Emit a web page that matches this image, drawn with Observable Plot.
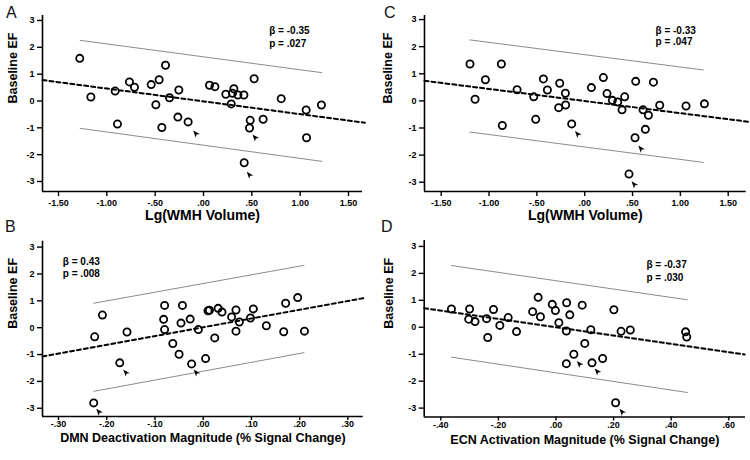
<!DOCTYPE html>
<html><head><meta charset="utf-8">
<script src="https://cdn.jsdelivr.net/npm/d3@7"></script>
<script src="https://cdn.jsdelivr.net/npm/@observablehq/plot@0.6"></script>
<style>
html,body{margin:0;padding:0;background:#fff;}
#fig{position:relative;width:750px;height:460px;overflow:hidden;font-family:"Liberation Sans",Arial,sans-serif;background:#fff;}
.panel{position:absolute;}
.letter{position:absolute;font-size:16px;line-height:1;color:#111;font-family:"Liberation Sans",Arial,sans-serif;}
.panel svg{overflow:visible;}
</style></head><body><div id="fig"></div>
<script>
// ---------- Panel A: Lg(WMH Volume) vs Baseline EF ----------
const aX = [-1.28,-1.165,-0.914,-0.89,-0.766,-0.714,-0.541,-0.493,-0.459,-0.431,-0.393,-0.352,-0.255,-0.265,-0.159,
            0.062,0.118,0.524,0.314,0.231,0.30,0.356,0.418,0.287,0.804,1.062,1.22,0.483,0.476,0.617,1.066,0.421];
const aY = [1.59,0.15,0.37,-0.86,0.71,0.51,0.61,-0.14,0.79,-0.99,1.33,0.12,0.41,-0.60,-0.78,
            0.585,0.533,0.83,0.458,0.25,0.287,0.224,0.224,-0.11,0.086,-0.335,-0.15,-0.72,-1.006,-0.68,-1.37,-2.30];
const aFitX = [-1.6655, 1.67], aFitY = [0.78, -0.81];
const aBandX = [-1.276, 1.224], aUpperY = [2.26, 1.056], aLowerY = [-1.02, -2.25];
const aArrowX = [-0.078, 0.535, 0.476], aArrowY = [-1.22, -1.37, -2.76];
const aStats = ["β = -0.35", "p = .027"];

// ---------- Panel C: Lg(WMH Volume) vs Baseline EF ----------
const cX = [-1.199,-1.146,-1.038,-0.871,-0.861,-0.707,-0.533,-0.512,-0.432,-0.39,-0.261,-0.272,-0.202,-0.199,-0.136,
            0.07,0.195,0.233,0.289,0.345,0.418,0.39,0.533,0.526,0.61,0.634,0.666,0.718,0.784,1.059,1.251,0.463];
const cY = [1.36,0.06,0.78,1.36,-0.91,0.41,0.15,-0.68,0.81,0.40,0.65,-0.25,0.28,-0.15,-0.85,
            0.49,0.86,0.27,0.02,-0.04,0.15,-0.33,0.72,-1.36,-0.33,-1.05,-0.53,0.69,-0.16,-0.19,-0.11,-2.70];
const cFitX = [-1.6746, 1.714], cFitY = [0.74, -0.77];
const cBandX = [-1.199, 1.24], cUpperY = [2.25, 1.14], cLowerY = [-1.15, -2.27];
const cArrowX = [-0.073, 0.589, 0.519], cArrowY = [-1.23, -1.77, -3.09];
const cStats = ["β = -0.33", "p = .047"];

// ---------- Panel B: DMN deactivation vs Baseline EF ----------
const bX = [-0.225,-0.209,-0.158,-0.173,-0.227,-0.082,-0.080,-0.080,-0.063,-0.050,-0.046,-0.043,-0.027,-0.024,-0.010,0.005,
            0.010,0.013,0.024,0.031,0.039,0.059,0.068,0.068,0.075,0.098,0.104,0.131,0.167,0.171,0.196,0.210];
const bY = [-0.34,0.47,-0.16,-1.31,-2.80,0.31,0.83,-0.07,-0.59,-0.99,0.17,0.83,0.32,-1.35,-0.07,-1.15,
            0.63,0.65,-0.38,0.72,0.58,0.40,0.66,-0.13,0.21,0.36,0.70,0.07,-0.15,0.91,1.12,-0.13];
const bFitX = [-0.3332, 0.332], bFitY = [-1.07, 1.10];
const bBandX = [-0.227, 0.209], bUpperY = [0.91, 2.32], bLowerY = [-2.37, -0.93];
const bArrowX = [-0.160, -0.014, -0.216], bArrowY = [-1.68, -1.68, -3.14];
const bStats = ["β = 0.43", "p = .008"];

// ---------- Panel D: ECN activation vs Baseline EF ----------
const dX = [-0.363,-0.300,-0.303,-0.281,-0.241,-0.237,-0.217,-0.195,-0.166,-0.137,-0.081,-0.062,-0.054,-0.013,-0.002,0.010,
            0.037,0.036,0.048,0.036,0.062,0.091,0.100,0.121,0.125,0.162,0.201,0.226,0.258,0.207,0.450,0.454];
const dY = [0.68,0.68,0.30,0.21,0.32,-0.38,0.66,0.07,0.36,-0.16,0.58,1.11,0.39,0.85,0.62,0.17,
            0.91,-0.14,0.46,-1.35,-1.00,0.82,-0.60,-0.09,-1.32,-1.16,0.65,-0.15,-0.10,-2.80,-0.17,-0.36];
const dFitX = [-0.4576, 0.655], dFitY = [0.71, -1.01];
const dBandX = [-0.363, 0.456], dUpperY = [2.29, 1.02], dLowerY = [-1.11, -2.42];
const dArrowX = [0.082, 0.144, 0.230], dArrowY = [-1.37, -1.65, -3.15];
const dStats = ["β = -0.37", "p = .030"];

// ---------- Axes ----------
const yTicks = [-3,-2,-1,0,1,2,3];
const yTickLabels = ["-3","-2","-1","0","1","2","3"];
const wmhTicks = [-1.5,-1,-0.5,0,0.5,1,1.5];
const wmhTickLabels = ["-1.50","-1.00","-.50",".00",".50","1.00","1.50"];
const dmnTicks = [-0.3,-0.2,-0.1,0,0.1,0.2,0.3];
const dmnTickLabels = ["-.30","-.20","-.10",".00",".10",".20",".30"];
const ecnTicks = [-0.4,-0.2,0,0.2,0.4,0.6];
const ecnTickLabels = ["-.40","-.20",".00",".20",".40",".60"];
const yLabel = "Baseline EF";
const xLabels = {A:"Lg(WMH Volume)", C:"Lg(WMH Volume)",
  B:"DMN Deactivation Magnitude (% Signal Change)", D:"ECN Activation Magnitude (% Signal Change)"};

const arrowSymbol = {
  draw(ctx, size) {
    const k = Math.sqrt(size / Math.PI);
    ctx.moveTo(0, -1.6 * k);
    ctx.lineTo(1.0 * k, 1.0 * k);
    ctx.lineTo(0, 0.35 * k);
    ctx.lineTo(-1.0 * k, 1.0 * k);
    ctx.closePath();
  }
};

const FONT = "'Liberation Sans', Arial, sans-serif";

function panel(c) {
  const pts = c.x.map((x, i) => ({x, y: c.y[i]}));
  const fit = c.fitX.map((x, i) => ({x, y: c.fitY[i]}));
  const up = c.bandX.map((x, i) => ({x, y: c.upY[i]}));
  const lo = c.bandX.map((x, i) => ({x, y: c.loY[i]}));
  const arrows = c.arX.map((x, i) => ({x, y: c.arY[i]}));
  return Plot.plot({
    width: 375, height: 230,
    marginLeft: c.ml, marginRight: c.mr, marginTop: c.mt, marginBottom: c.mb,
    style: {fontFamily: FONT, fontSize: "9px", fontWeight: "bold", background: "transparent", color: "#000"},
    x: {domain: c.xDomain, label: null},
    y: {domain: c.yDomain, label: null},
    marks: [
      Plot.axisX({ticks: c.xTicks, tickFormat: d => c.xTickLabels[c.xTicks.indexOf(d)], tickSize: c.xTickSize, tickPadding: c.xTickPad, label: null, strokeWidth: 1.4}),
      Plot.axisY({ticks: yTicks, tickFormat: d => yTickLabels[yTicks.indexOf(d)], tickSize: 5, tickPadding: 3, label: null, strokeWidth: 1.4}),
      Plot.ruleY([c.yDomain[0]], {stroke: "#000", strokeWidth: 1.6}),
      Plot.ruleX([c.xDomain[0]], {stroke: "#000", strokeWidth: 1.6}),
      Plot.line(up, {x: "x", y: "y", stroke: "#8c8c8c", strokeWidth: 1}),
      Plot.line(lo, {x: "x", y: "y", stroke: "#8c8c8c", strokeWidth: 1}),
      Plot.line(fit, {x: "x", y: "y", stroke: "#000", strokeWidth: 2, strokeDasharray: "4,3"}),
      Plot.dot(pts, {x: "x", y: "y", r: 3.6, stroke: "#000", strokeWidth: 1.8, fill: "none"}),
      Plot.dot(arrows, {x: "x", y: "y", r: 2.7, symbol: arrowSymbol, fill: "#000", stroke: "none", rotate: -40}),
      Plot.text(c.stats, {x: () => c.statX, y: (d, i) => c.statY - i * c.statGap, textAnchor: "start", fontSize: 10, fontWeight: "bold"}),
      Plot.text([yLabel], {frameAnchor: "left", dx: c.ylDx, rotate: -90, fontSize: 12.5, fontWeight: "bold"}),
      Plot.text([c.xLabel], {frameAnchor: "bottom", dy: c.xlDy, fontSize: c.xlSize, fontWeight: "bold"})
    ]
  });
}

const configs = [
  {key: "A", left: 0, top: 0, x: aX, y: aY, fitX: aFitX, fitY: aFitY, bandX: aBandX, upY: aUpperY, loY: aLowerY,
   arX: aArrowX, arY: aArrowY, stats: aStats, statX: 0.68, statY: 2.6, statGap: 0.46,
   xDomain: [-1.6655, 1.6448], yDomain: [-3.373, 3.186], xTicks: wmhTicks, xTickLabels: wmhTickLabels,
   xTickSize: 5, xTickPad: 3,
   ml: 42, mr: 13, mt: 15, mb: 39, ylDx: -30, xlDy: 28, xLabel: xLabels.A, xlSize: 14},
  {key: "C", left: 375, top: 0, x: cX, y: cY, fitX: cFitX, fitY: cFitY, bandX: cBandX, upY: cUpperY, loY: cLowerY,
   arX: cArrowX, arY: cArrowY, stats: cStats, statX: 0.74, statY: 2.6, statGap: 0.42,
   xDomain: [-1.6746, 1.688], yDomain: [-3.343, 3.15], xTicks: wmhTicks, xTickLabels: wmhTickLabels,
   xTickSize: 5, xTickPad: 3,
   ml: 49, mr: 4.3, mt: 15, mb: 39, ylDx: -37, xlDy: 28, xLabel: xLabels.C, xlSize: 14},
  {key: "B", left: 0, top: 230, x: bX, y: bY, fitX: bFitX, fitY: bFitY, bandX: bBandX, upY: bUpperY, loY: bLowerY,
   arX: bArrowX, arY: bArrowY, stats: bStats, statX: -0.291, statY: 2.47, statGap: 0.47,
   xDomain: [-0.3332, 0.3318], yDomain: [-3.307, 3.22], xTicks: dmnTicks, xTickLabels: dmnTickLabels,
   xTickSize: 4, xTickPad: 0.5,
   ml: 42, mr: 12.3, mt: 10.7, mb: 44, ylDx: -30, xlDy: 25, xLabel: xLabels.B, xlSize: 12.5},
  {key: "D", left: 375, top: 230, x: dX, y: dY, fitX: dFitX, fitY: dFitY, bandX: dBandX, upY: dUpperY, loY: dLowerY,
   arX: dArrowX, arY: dArrowY, stats: dStats, statX: 0.314, statY: 2.3, statGap: 0.45,
   xDomain: [-0.4576, 0.658], yDomain: [-3.33, 3.22], xTicks: ecnTicks, xTickLabels: ecnTickLabels,
   xTickSize: 4, xTickPad: 0.5,
   ml: 48.7, mr: 5, mt: 10, mb: 43.5, ylDx: -35.4, xlDy: 27, xLabel: xLabels.D, xlSize: 12.5}
];

const fig = document.getElementById("fig");
for (const c of configs) {
  const div = document.createElement("div");
  div.className = "panel";
  div.style.left = c.left + "px";
  div.style.top = c.top + "px";
  div.appendChild(panel(c));
  fig.appendChild(div);
}
const letters = [
  {t: "A", left: 6, top: 5}, {t: "C", left: 384, top: 5},
  {t: "B", left: 5, top: 219}, {t: "D", left: 381, top: 219}
];
for (const l of letters) {
  const d = document.createElement("div");
  d.className = "letter";
  d.textContent = l.t;
  d.style.left = l.left + "px";
  d.style.top = l.top + "px";
  fig.appendChild(d);
}
</script></body></html>
